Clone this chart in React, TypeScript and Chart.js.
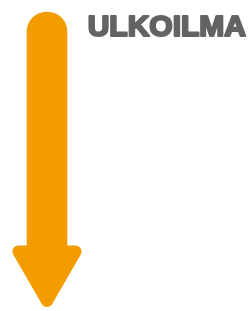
import React, { useEffect, useRef } from "react";
import { Chart, registerables } from "chart.js";

Chart.register(...registerables);

const categories = ["ULKOILMA"];
const flowFrom = [0];
const flowTo = [100];
const titleText = "ULKOILMA";

const ORANGE = "#F39C00";
const GRAY = "#636363";

const titlePlugin = {
  id: "sideTitle",
  afterDraw(chart: any) {
    const { ctx, width } = chart;
    ctx.save();
    ctx.font = "900 30px 'Liberation Sans', Arial, sans-serif";
    ctx.fillStyle = GRAY;
    ctx.strokeStyle = GRAY;
    ctx.lineWidth = 2.2;
    ctx.lineJoin = "round";
    ctx.textAlign = "right";
    ctx.textBaseline = "alphabetic";
    ctx.fillText(titleText, width - 5, 36);
    ctx.strokeText(titleText, width - 5, 36);
    ctx.restore();
  },
};

const roundJoinPlugin = {
  id: "roundJoin",
  beforeDatasetsDraw(chart: any) {
    chart.ctx.lineJoin = "round";
  },
};

export default function App() {
  const ref = useRef<HTMLCanvasElement>(null);
  useEffect(() => {
    if (!ref.current) return;
    const chart = new Chart(ref.current, {
      type: "bar",
      data: {
        labels: categories,
        datasets: [
          {
            type: "line",
            data: flowTo,
            showLine: false,
            pointStyle: "triangle",
            rotation: 180,
            radius: 33,
            borderWidth: 12,
            borderColor: ORANGE,
            backgroundColor: ORANGE,
            clip: false,
          } as any,
          {
            type: "bar",
            data: flowFrom.map((v, i) => [v, flowTo[i]]),
            backgroundColor: ORANGE,
            borderWidth: 0,
            borderSkipped: false,
            borderRadius: 20,
            barThickness: 40,
            clip: false,
          } as any,
        ],
      },
      options: {
        responsive: false,
        animation: false,
        events: [],
        layout: { autoPadding: false, padding: { left: 0, right: 157, top: 0, bottom: 0 } },
        plugins: {
          legend: { display: false },
          tooltip: { enabled: false },
          title: { display: false },
        },
        scales: {
          x: { display: false, offset: true },
          y: { display: false, reverse: true, min: -4.69, max: 116.8 },
        },
      },
      plugins: [titlePlugin, roundJoinPlugin],
    });
    return () => chart.destroy();
  }, []);
  return (
    <div style={{ position: "absolute", left: 0, top: 0, width: 251, height: 311, background: "#fff" }}>
      <canvas ref={ref} width={251} height={311} />
    </div>
  );
}
